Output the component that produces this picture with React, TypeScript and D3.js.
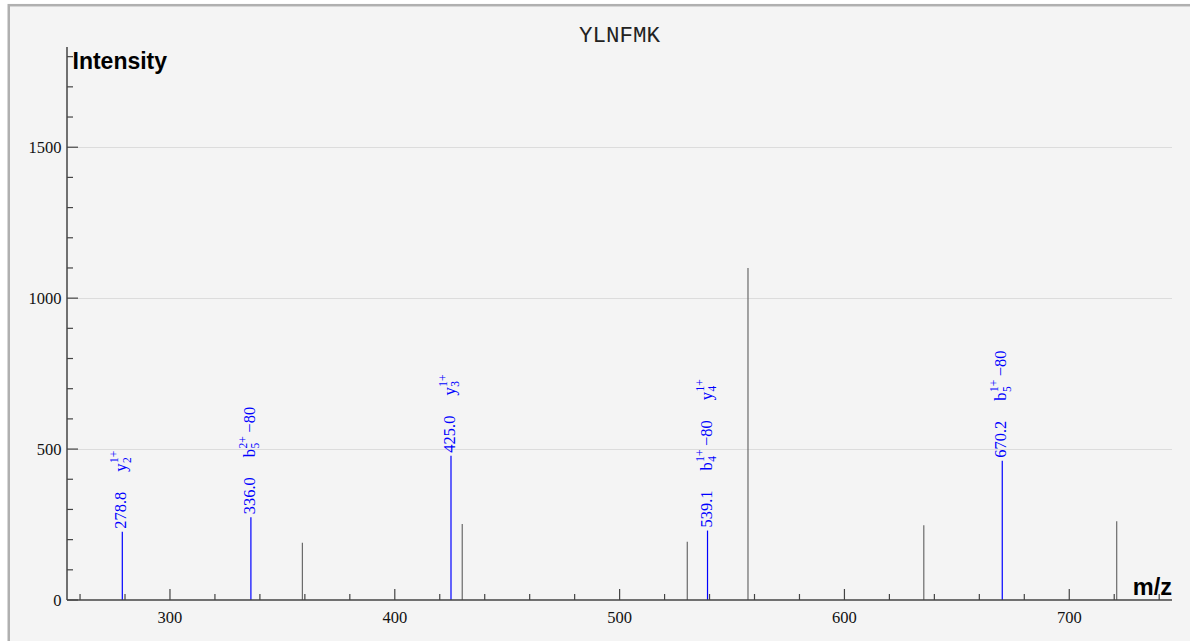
import React, { useEffect, useRef } from "react";
import * as d3 from "d3";

// ---- data ----
const title = "YLNFMK";
const unmatchedMz = [358.9, 430.0, 530.1, 557.1, 635.3, 721.1];
const unmatchedIntensity = [190, 252, 193, 1100, 248, 261];

const matchedMz = [278.8, 336.0, 425.0, 539.1, 670.2];
const matchedIntensity = [226, 274, 478, 230, 461];

// annotations (one row per annotation; several may share a peak)
const annMz = [278.8, 336.0, 425.0, 539.1, 539.1, 670.2];
const annIon = ["y", "b", "y", "b", "y", "b"];
const annSub = ["2", "5", "3", "4", "4", "5"];
const annSup = ["1+", "2+", "1+", "1+", "1+", "1+"];
const annLoss = ["", "\u221280", "", "\u221280", "", "\u221280"];

const xDomain = [254.2, 745.7];
const yDomain = [0, 1832];
const xMajorTicks = [300, 400, 500, 600, 700];
const yMajorTicks = [0, 500, 1000, 1500];

const W = 1190;
const H = 641;
const SERIF = "'Liberation Serif', 'Times New Roman', serif";
const SANS = "'Liberation Sans', Arial, sans-serif";
const MONO = "'Liberation Mono', 'Courier New', monospace";

export default function App() {
  const ref = useRef<SVGSVGElement | null>(null);

  useEffect(() => {
    const svg = d3.select(ref.current);
    svg.selectAll("*").remove();

    const left = 67, right = 1172, top = 47, bottom = 600;
    const x = d3.scaleLinear().domain(xDomain).range([left, right]);
    const y = d3.scaleLinear().domain(yDomain).range([bottom, top]);

    // frame
    svg.append("rect").attr("x", 0).attr("y", 0).attr("width", W).attr("height", H).attr("fill", "#ffffff");
    svg.append("rect")
      .attr("x", 8.75).attr("y", 5.2).attr("width", W + 50).attr("height", H + 50)
      .attr("fill", "#f4f4f4").attr("stroke", "#b0b0b0").attr("stroke-width", 2.5);

    // grid
    svg.append("g").selectAll("line").data(yMajorTicks.filter(d => d > 0)).join("line")
      .attr("x1", left).attr("x2", right)
      .attr("y1", d => Math.round(y(d)) + 0.5).attr("y2", d => Math.round(y(d)) + 0.5)
      .attr("stroke", "#dcdcdc").attr("stroke-width", 1);

    // title
    svg.append("text").attr("x", (left + right) / 2).attr("y", 41.5)
      .attr("text-anchor", "middle").attr("font-family", MONO).attr("font-size", 22.5)
      .attr("fill", "#222").text(title);

    // peaks unmatched
    svg.append("g").selectAll("line").data(unmatchedMz).join("line")
      .attr("x1", d => x(d)).attr("x2", d => x(d))
      .attr("y1", bottom).attr("y2", (d, i) => y(unmatchedIntensity[i]))
      .attr("stroke", "#6a6a6a").attr("stroke-width", 1.2);

    // peaks matched
    svg.append("g").selectAll("line").data(matchedMz).join("line")
      .attr("x1", d => x(d)).attr("x2", d => x(d))
      .attr("y1", bottom).attr("y2", (d, i) => y(matchedIntensity[i]))
      .attr("stroke", "#0000ff").attr("stroke-width", 1.2);

    // axes
    const axisColor = "#444";
    svg.append("line").attr("x1", left).attr("x2", left).attr("y1", top).attr("y2", bottom)
      .attr("stroke", axisColor).attr("stroke-width", 1.5);
    svg.append("line").attr("x1", left).attr("x2", right).attr("y1", bottom).attr("y2", bottom)
      .attr("stroke", axisColor).attr("stroke-width", 1.5);

    const xMinor = d3.range(260, 746, 20).filter(v => !xMajorTicks.includes(v));
    const yMinor = d3.range(100, 1832, 100).filter(v => !yMajorTicks.includes(v));

    svg.append("g").selectAll("line").data(xMajorTicks).join("line")
      .attr("x1", d => x(d)).attr("x2", d => x(d)).attr("y1", bottom).attr("y2", bottom - 11)
      .attr("stroke", axisColor).attr("stroke-width", 1.2);
    svg.append("g").selectAll("line").data(xMinor).join("line")
      .attr("x1", d => x(d)).attr("x2", d => x(d)).attr("y1", bottom).attr("y2", bottom - 6)
      .attr("stroke", axisColor).attr("stroke-width", 1.2);
    svg.append("g").selectAll("line").data(yMajorTicks).join("line")
      .attr("x1", left).attr("x2", left + 11).attr("y1", d => y(d)).attr("y2", d => y(d))
      .attr("stroke", axisColor).attr("stroke-width", 1.2);
    svg.append("g").selectAll("line").data(yMinor).join("line")
      .attr("x1", left).attr("x2", left + 6).attr("y1", d => y(d)).attr("y2", d => y(d))
      .attr("stroke", axisColor).attr("stroke-width", 1.2);

    svg.append("g").selectAll("text").data(xMajorTicks).join("text")
      .attr("x", d => x(d)).attr("y", 622.5).attr("text-anchor", "middle")
      .attr("font-family", SERIF).attr("font-size", 16.5).attr("fill", "#111")
      .text(d => String(d));
    svg.append("g").selectAll("text").data(yMajorTicks).join("text")
      .attr("x", 61.5).attr("y", d => y(d) + 5.5).attr("text-anchor", "end")
      .attr("font-family", SERIF).attr("font-size", 16.5).attr("fill", "#111")
      .text(d => String(d));

    svg.append("text").attr("x", 72.5).attr("y", 69).attr("font-family", SANS)
      .attr("font-weight", "bold").attr("font-size", 23).attr("fill", "#000").text("Intensity");
    svg.append("text").attr("x", 1172).attr("y", 595).attr("text-anchor", "end").attr("font-family", SANS)
      .attr("font-weight", "bold").attr("font-size", 23.5).attr("fill", "#000").text("m/z");

    // labels
    const blue = "#0000ff";
    const gap = 20;
    matchedMz.forEach((mz, i) => {
      const g = svg.append("g")
        .attr("transform", `translate(${x(mz)},${y(matchedIntensity[i]) - 3}) rotate(-90)`)
        .attr("font-family", SERIF).attr("fill", blue);
      const t = g.append("text").attr("x", 0).attr("y", 4).attr("font-size", 16.5).text(mz.toFixed(1));
      let cursor = (t.node() as SVGTextElement).getComputedTextLength() + gap;
      annMz.forEach((am, j) => {
        if (am !== mz) return;
        const ion = g.append("text").attr("x", cursor).attr("y", 4).attr("font-size", 16.5).text(annIon[j]);
        const wIon = (ion.node() as SVGTextElement).getComputedTextLength();
        const sup = g.append("text").attr("x", cursor + wIon + 0.5).attr("y", -4).attr("font-size", 11.5).text(annSup[j]);
        const sub = g.append("text").attr("x", cursor + wIon + 0.5).attr("y", 8.5).attr("font-size", 11.5).text(annSub[j]);
        const wS = Math.max(
          (sup.node() as SVGTextElement).getComputedTextLength(),
          (sub.node() as SVGTextElement).getComputedTextLength()
        );
        cursor += wIon + 0.5 + wS;
        if (annLoss[j]) {
          const loss = g.append("text").attr("x", cursor + 3.5).attr("y", 4).attr("font-size", 16.5).text(annLoss[j]);
          cursor += 3.5 + (loss.node() as SVGTextElement).getComputedTextLength();
        }
        cursor += gap;
      });
    });
  }, []);

  return (
    <div style={{ position: "absolute", left: 0, top: 0, width: W, height: H, overflow: "hidden" }}>
      <svg ref={ref} width={W} height={H} style={{ display: "block" }} />
    </div>
  );
}
